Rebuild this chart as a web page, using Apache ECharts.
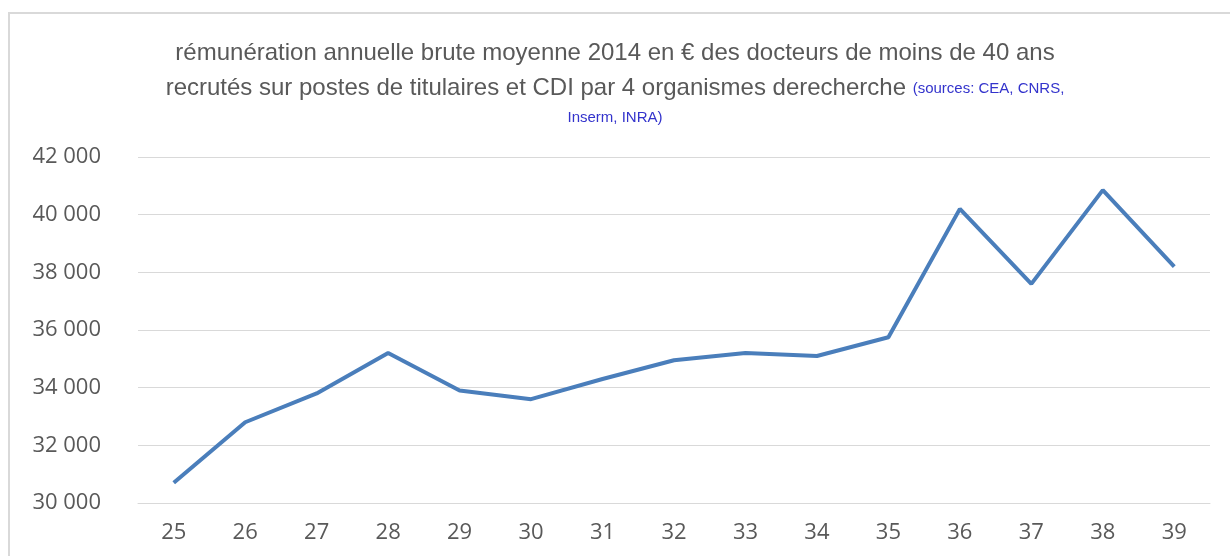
<!DOCTYPE html>
<html>
<head>
<meta charset="utf-8">
<script src="https://cdn.jsdelivr.net/npm/echarts@6/dist/echarts.min.js"></script>
<style>
  html, body { margin: 0; padding: 0; background: #fff; }
  #frame { position: absolute; left: 8px; top: 12px; width: 1240px; height: 560px;
           border-left: 2px solid #d9d9d9; border-top: 2px solid #d9d9d9; }
  #chart { position: absolute; left: 0; top: 0; width: 1230px; height: 556px; }
</style>
</head>
<body>
<div id="frame"></div>
<div id="chart"></div>
<script>
// âge des docteurs recrutés
const ages = ['25', '26', '27', '28', '29', '30', '31', '32', '33', '34', '35', '36', '37', '38', '39'];
// rémunération annuelle brute moyenne (€)
const salaries = [30700, 32800, 33800, 35200, 33900, 33600, 34300, 34950, 35200, 35100, 35750, 40200, 37600, 40850, 38200];

const titleLine1 = 'rémunération annuelle brute moyenne 2014 en € des docteurs de moins de 40 ans';
const titleLine2 = 'recrutés sur postes de titulaires et CDI par 4 organismes derecherche';
const sourceLine1 = '(sources: CEA, CNRS,';
const sourceLine2 = 'Inserm, INRA)';

document.addEventListener('DOMContentLoaded', function () {
    let myChart = echarts.init(document.getElementById('chart'));

    let option = {
        animation: false,
        title: {
            left: 'center',
            top: 31,
            text: titleLine1 + '\n' + titleLine2 + ' {s|' + sourceLine1 + '}\n{s|' + sourceLine2 + '}',
            textStyle: {
                color: '#595959',
                fontSize: 24,
                fontWeight: 'normal',
                lineHeight: 35,
                fontFamily: '"Liberation Sans", sans-serif',
                rich: {
                    s: {
                        color: '#3333cc',
                        fontSize: 15,
                        lineHeight: 24,
                        fontFamily: '"Liberation Sans", sans-serif'
                    }
                }
            }
        },
        grid: {
            left: 138,
            right: 20,
            top: 157,
            bottom: 53,
            containLabel: false
        },
        xAxis: {
            type: 'category',
            data: ages,
            boundaryGap: true,
            axisLine: { show: true, lineStyle: { color: '#d9d9d9' } },
            axisTick: { show: false },
            axisLabel: { color: '#595959', fontSize: 22, margin: 19, fontFamily: '"Open Sans", sans-serif' }
        },
        yAxis: {
            type: 'value',
            min: 30000,
            max: 42000,
            interval: 2000,
            axisLine: { show: false },
            axisTick: { show: false },
            splitLine: { lineStyle: { color: '#d9d9d9', width: 1 } },
            axisLabel: {
                color: '#595959',
                fontSize: 22,
                margin: 37,
                fontFamily: '"Open Sans", sans-serif',
                formatter: function (v) {
                    return String(v).replace(/\B(?=(\d{3})+(?!\d))/g, ' ');
                }
            }
        },
        series: [
            {
                type: 'line',
                data: salaries,
                symbol: 'none',
                lineStyle: { color: '#4a7ebb', width: 4 },
                itemStyle: { color: '#4a7ebb' }
            }
        ]
    };

    myChart.setOption(option);
});
</script>
</body>
</html>
